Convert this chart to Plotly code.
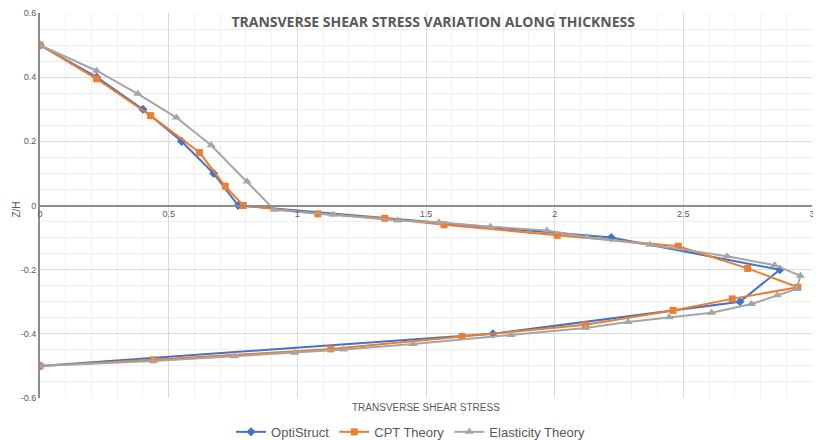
import plotly.graph_objects as go

# transverse shear stress (x) vs normalised thickness Z/H (y)
opti_x = [0, 0.22, 0.40, 0.55, 0.675, 0.77, 2.22, 2.875, 2.72, 1.76, 0]
opti_z = [0.5, 0.4, 0.3, 0.2, 0.1, 0, -0.1, -0.2, -0.3, -0.4, -0.5]

cpt_x = [0, 0.22, 0.43, 0.62, 0.72, 0.79, 1.08, 1.34, 1.57, 2.01, 2.48,
         2.75, 2.945, 2.69, 2.46, 2.12, 1.64, 1.13, 0.44, 0]
cpt_z = [0.5, 0.395, 0.28, 0.165, 0.06, 0, -0.026, -0.04, -0.06, -0.093,
         -0.127, -0.196, -0.255, -0.291, -0.327, -0.372, -0.408, -0.447,
         -0.481, -0.5]

elas_x = [0, 0.22, 0.38, 0.53, 0.665, 0.805, 0.91, 1.14, 1.39, 1.55, 1.75,
          1.97, 2.125, 2.37, 2.67, 2.855, 2.955, 2.94, 2.865, 2.765, 2.61,
          2.445, 2.285, 2.12, 1.83, 1.45, 1.18, 0.99, 0.755, 0.44, 0]
elas_z = [0.5, 0.42, 0.348, 0.274, 0.188, 0.075, -0.013, -0.029, -0.047,
          -0.052, -0.066, -0.078, -0.098, -0.122, -0.158, -0.186, -0.219,
          -0.26, -0.28, -0.307, -0.334, -0.348, -0.363, -0.382, -0.404,
          -0.432, -0.449, -0.459, -0.47, -0.485, -0.5]

x_ticks = [0, 0.5, 1, 1.5, 2, 2.5, 3]
x_tick_labels = ["0", "0.5", "1", "1.5", "2", "2.5", "3"]
y_ticks = [-0.6, -0.4, -0.2, 0, 0.2, 0.4, 0.6]
y_tick_labels = ["-0.6", "-0.4", "-0.2", "0", "0.2", "0.4", "0.6"]

FONT = "Liberation Sans"
TXT = "#595959"

fig = go.Figure()

fig.add_trace(go.Scatter(
    x=opti_x, y=opti_z, name="OptiStruct", mode="lines+markers",
    line=dict(color="#4472C4", width=2),
    marker=dict(symbol="diamond", size=7, color="#4472C4"),
))
fig.add_trace(go.Scatter(
    x=cpt_x, y=cpt_z, name="CPT Theory", mode="lines+markers",
    line=dict(color="#ED7D31", width=2),
    marker=dict(symbol="square", size=7, color="#ED7D31"),
))
fig.add_trace(go.Scatter(
    x=elas_x, y=elas_z, name="Elasticity Theory", mode="lines+markers",
    line=dict(color="#A5A5A5", width=2),
    marker=dict(symbol="triangle-up", size=8, color="#A5A5A5"),
))

# the page body adds an 8px offset, so the figure is 8px smaller
fig.update_layout(
    width=813, height=432,
    margin=dict(l=32, r=9, t=5, b=42, autoexpand=False),
    paper_bgcolor="white", plot_bgcolor="white",
    font=dict(family=FONT, color=TXT),
    title=dict(
        text="<b>TRANSVERSE SHEAR STRESS VARIATION ALONG THICKNESS</b>",
        font=dict(family="Open Sans", size=14, color=TXT),
        x=0.523, xanchor="center", xref="container",
        y=0.968, yanchor="middle", yref="container",
    ),
    legend=dict(
        orientation="h", xref="paper", yref="paper",
        x=0.48, xanchor="center", y=-0.088, yanchor="middle",
        font=dict(family=FONT, size=13, color=TXT),
    ),
    showlegend=True,
)

# x axis crosses at Z/H = 0 (middle of the y domain)
fig.update_xaxes(
    range=[0, 3], tickvals=x_ticks, ticktext=x_tick_labels,
    anchor="free", position=0.5, automargin=False,
    showline=True, linecolor="#8C8C8C", linewidth=2,
    zeroline=False, ticks="",
    tickfont=dict(size=9, color=TXT),
    showgrid=True, gridcolor="#D9D9D9", gridwidth=1,
    minor=dict(dtick=0.1, showgrid=True, gridcolor="#F0F0F0"),
)
fig.update_yaxes(
    range=[-0.6, 0.6], tickvals=y_ticks, ticktext=y_tick_labels,
    automargin=False, ticklabeloverflow="allow",
    showline=True, linecolor="#8C8C8C", linewidth=2,
    zeroline=False, ticks="",
    tickfont=dict(size=9, color=TXT),
    showgrid=True, gridcolor="#D9D9D9", gridwidth=1,
    minor=dict(dtick=0.05, showgrid=True, gridcolor="#F0F0F0"),
)

# axis titles
fig.add_annotation(
    text="TRANSVERSE SHEAR STRESS", xref="paper", yref="paper",
    x=0.5, y=-0.025, yanchor="middle", showarrow=False,
    font=dict(family=FONT, size=10, color=TXT),
)
fig.add_annotation(
    text="Z/H", xref="paper", yref="paper", textangle=-90,
    x=-0.0405, y=0.49, xanchor="left", yanchor="middle", showarrow=False,
    font=dict(family=FONT, size=10, color=TXT),
)

fig.write_html("out.html")
